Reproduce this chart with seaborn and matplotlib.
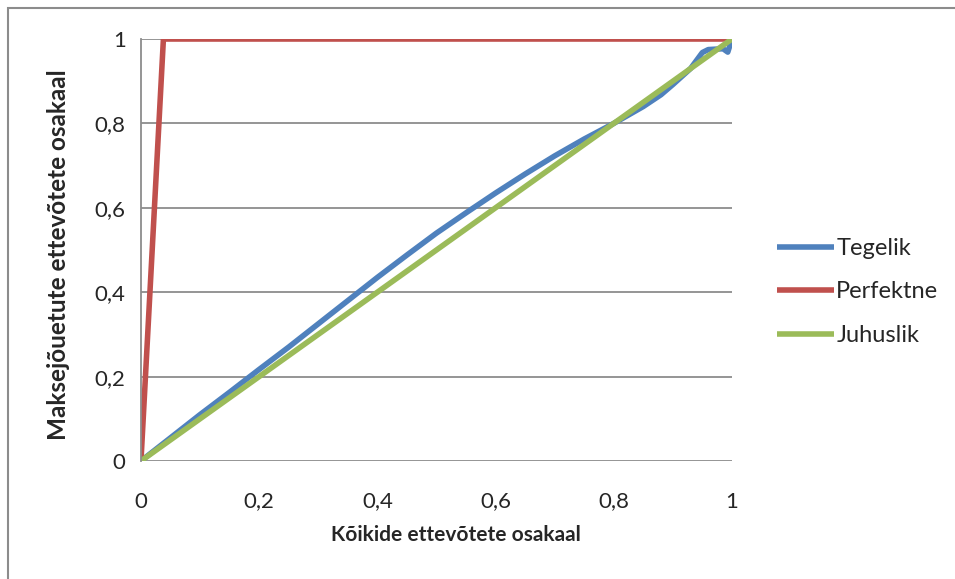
import matplotlib
matplotlib.use("Agg")
import matplotlib.pyplot as plt
import seaborn as sns
import pandas as pd
from matplotlib.patches import Rectangle

# data
tegelik_x = [0, 0.05, 0.1, 0.15, 0.2, 0.25, 0.3, 0.35, 0.4, 0.45, 0.5, 0.55, 0.6, 0.65,
             0.7, 0.75, 0.8, 0.85, 0.88, 0.9, 0.93, 0.95, 0.96, 0.985, 0.993, 1]
tegelik_y = [0, 0.055, 0.11, 0.163, 0.217, 0.27, 0.325, 0.38, 0.435, 0.488, 0.54, 0.588,
             0.635, 0.68, 0.723, 0.763, 0.8, 0.84, 0.868, 0.892, 0.93, 0.968, 0.975, 0.977, 0.969, 1]
perf_x = [0, 0.038, 1]
perf_y = [0, 1, 1]
juh_x = [0, 1]
juh_y = [0, 1]
series = ["Tegelik", "Perfektne", "Juhuslik"]
colors = ["#4F81BD", "#C0504D", "#9BBB59"]
ticks = [0, 0.2, 0.4, 0.6, 0.8, 1]
tick_labels = ["0", "0,2", "0,4", "0,6", "0,8", "1"]

df = pd.concat([
    pd.DataFrame({"x": tegelik_x, "y": tegelik_y, "s": series[0]}),
    pd.DataFrame({"x": perf_x, "y": perf_y, "s": series[1]}),
    pd.DataFrame({"x": juh_x, "y": juh_y, "s": series[2]}),
])

sns.set_style("white")
plt.rcParams['font.family'] = ['Lato', 'DejaVu Sans']

fig = plt.figure(figsize=(9.55, 5.79), dpi=100)
ax = fig.add_axes([0.1476, 0.2038, 0.6188, 0.7288])

# outer chart border
fig.patches.append(Rectangle((8 / 955, -0.1), 1.2, 1 - 8 / 579 + 0.1, transform=fig.transFigure,
                             fill=False, ec="#8c8c8c", lw=1.5))

for y in ticks:
    ax.axhline(y, color="#8c8c8c", lw=1.3, zorder=0)

sns.lineplot(data=df, x="x", y="y", hue="s", palette=dict(zip(series, colors)),
             sort=False, estimator=None, lw=4, ax=ax, solid_capstyle="butt")

ax.set_xlim(0, 1)
ax.set_ylim(0, 1)
ax.set_xticks(ticks)
ax.set_xticklabels(tick_labels)
ax.set_yticks(ticks)
ax.set_yticklabels(tick_labels)
ax.tick_params(axis="x", length=0, pad=22, labelsize=16)
ax.tick_params(axis="y", length=0, pad=11, labelsize=16)
for side in ["top", "right", "bottom"]:
    ax.spines[side].set_visible(False)
ax.spines["left"].set_color("#8c8c8c")
ax.spines["left"].set_linewidth(1.3)

ax.set_xlabel("Kõikide ettevõtete osakaal", fontsize=15, fontweight="bold")
ax.set_ylabel("Maksejõuetute ettevõtete osakaal", fontsize=17.5, fontweight="bold")
ax.xaxis.set_label_coords(0.533, -0.152)
ax.yaxis.set_label_coords(-0.12, 0.49)

handles, labels = ax.get_legend_handles_labels()
ax.legend(handles, labels, loc="center left", bbox_to_anchor=(756 / 955, 1 - 292 / 579),
          bbox_transform=fig.transFigure, frameon=False, fontsize=17,
          handlelength=2.4, handletextpad=0.1, labelspacing=0.95)

fig.savefig("out.png", dpi=100)
